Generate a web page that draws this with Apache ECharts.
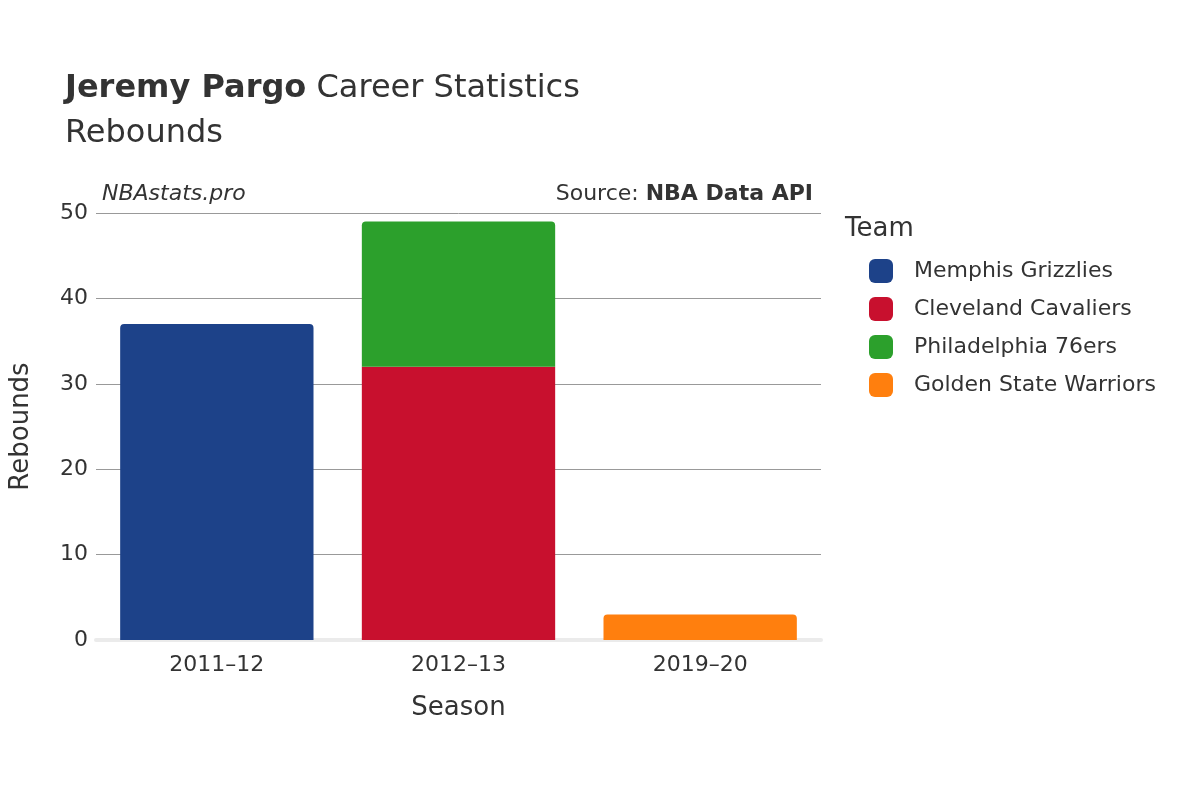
<!DOCTYPE html>
<html><head><meta charset="utf-8">
<script src="https://cdn.jsdelivr.net/npm/echarts@6/dist/echarts.min.js"></script>
<style>html,body{margin:0;padding:0;background:#fff}#c{width:1200px;height:800px}</style>
</head><body><div id="c"></div>
<script>
const seasons = ['2011–12','2012–13','2019–20'];
const teams = ['Memphis Grizzlies','Cleveland Cavaliers','Philadelphia 76ers','Golden State Warriors'];
const colors = ['#1d4289','#c8102e','#2ca02c','#ff7f0e'];
const memphis = [37, '-', '-'];
const cleveland = ['-', 32, '-'];
const philly = ['-', 17, '-'];
const warriors = ['-', '-', 3];
const yTicks = [0,10,20,30,40,50];
const values = [memphis, cleveland, philly, warriors];
const radii = [[4,4,0,0],[0,0,0,0],[4,4,0,0],[4,4,0,0]];
const F = 'DejaVu Sans';
const chart = echarts.init(document.getElementById('c'));
chart.setOption({
  animation:false,
  textStyle:{fontFamily:F},
  title:[{left:60,top:68,text:'{b|Jeremy Pargo} Career Statistics',textStyle:{fontFamily:F,fontSize:32,color:'#333',fontWeight:'normal',rich:{b:{fontFamily:F,fontSize:32,fontWeight:'bold',color:'#333'}}}},
    {left:60,top:113,text:'Rebounds',textStyle:{fontFamily:F,fontSize:32,color:'#333',fontWeight:'normal'}},
    {left:97,top:178,text:'NBAstats.pro',textStyle:{fontFamily:F,fontSize:22,color:'#333',fontStyle:'italic',fontWeight:'normal'}},
    {right:382,top:178,text:'Source: {b|NBA Data API}',textStyle:{fontFamily:F,fontSize:22,color:'#333',fontWeight:'normal',rich:{b:{fontFamily:F,fontSize:22,fontWeight:'bold',color:'#333'}}}},
    {left:840,top:211,text:'Team',textStyle:{fontFamily:F,fontSize:26,color:'#333',fontWeight:'normal'}}],
  legend:{orient:'vertical',left:864,top:254,itemWidth:24,itemHeight:24,itemGap:14,icon:'roundRect',
    textStyle:{fontFamily:F,fontSize:22,color:'#333',padding:[0,0,0,16]},data:teams},
  grid:{left:93,right:379,top:213,bottom:160},
  xAxis:{type:'category',data:seasons,name:'Season',nameLocation:'middle',nameGap:55,
    nameTextStyle:{fontFamily:F,fontSize:26,color:'#333'},
    axisLine:{show:true,lineStyle:{color:'#ebebeb',width:4}},axisTick:{show:false},
    axisLabel:{fontFamily:F,fontSize:22,color:'#333',margin:14}},
  yAxis:{type:'value',min:0,max:50,interval:10,name:'Rebounds',nameLocation:'middle',nameGap:62,
    nameTextStyle:{fontFamily:F,fontSize:26,color:'#333'},
    axisLabel:{fontFamily:F,fontSize:22,color:'#333',margin:8,formatter:v=>yTicks.includes(v)?String(v):''},
    splitLine:{lineStyle:{color:'#999',width:1}},axisLine:{show:false},axisTick:{show:false}},
  series: teams.map((t,i)=>({name:t,type:'bar',stack:'s',barWidth:'80%',data:values[i],
    itemStyle:{color:colors[i],borderRadius:radii[i],borderColor:'#fff',borderWidth:i===2?0:0}}))
});
</script></body></html>
